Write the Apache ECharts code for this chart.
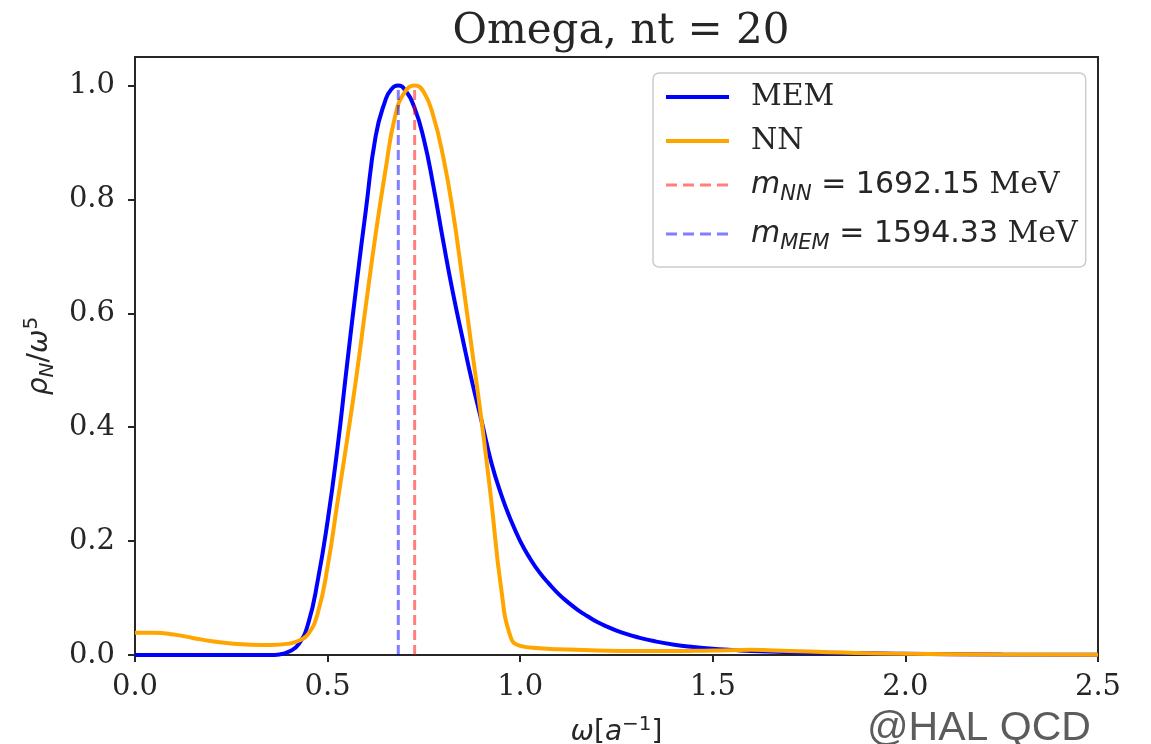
<!DOCTYPE html>
<html>
<head>
<meta charset="utf-8">
<script src="https://cdn.jsdelivr.net/npm/echarts@6/dist/echarts.min.js"></script>
<style>
html, body { margin: 0; padding: 0; background: #fff; }
#chart { width: 1151px; height: 744px; }
</style>
</head>
<body>
<div id="chart"></div>
<script>
// spectral functions (omega in lattice units)
const memOmega = [0, 0.2, 0.35, 0.375, 0.4, 0.425, 0.45, 0.475, 0.5, 0.525, 0.55, 0.575, 0.6, 0.625, 0.65, 0.665, 0.6835,
    0.7, 0.725, 0.75, 0.775, 0.8, 0.825, 0.85, 0.875, 0.9, 0.925, 0.95, 0.975, 1.0, 1.025, 1.05, 1.075, 1.1, 1.125, 1.15,
    1.175, 1.2, 1.225, 1.25, 1.275, 1.3, 1.35, 1.4, 1.45, 1.5, 1.55, 1.6, 1.7, 1.8, 1.9, 2.0, 2.25, 2.5];
const memRho = [0, 0, 0, 0.001, 0.006, 0.019, 0.056, 0.133, 0.235, 0.36, 0.507, 0.65, 0.785, 0.912, 0.974, 0.993, 1.0,
    0.993, 0.962, 0.905, 0.822, 0.727, 0.637, 0.557, 0.48, 0.41, 0.338, 0.283, 0.238, 0.2, 0.17, 0.145, 0.125, 0.107, 0.092, 0.079,
    0.068, 0.058, 0.05, 0.043, 0.037, 0.032, 0.024, 0.018, 0.014, 0.011, 0.009, 0.007, 0.005, 0.004, 0.003, 0.002, 0.001, 0.0005];

const nnOmega = [0, 0.05, 0.1, 0.15, 0.2, 0.25, 0.3, 0.35, 0.4, 0.425, 0.45, 0.475, 0.5, 0.525, 0.55, 0.575, 0.6, 0.625,
    0.65, 0.675, 0.7, 0.726, 0.75, 0.775, 0.8, 0.825, 0.85, 0.875, 0.9, 0.925, 0.95, 0.975, 1.0, 1.05, 1.1, 1.2,
    1.3, 1.4, 1.5, 1.6, 1.7, 1.8, 2.0, 2.25, 2.5];
const nnRho = [0.039, 0.039, 0.036, 0.030, 0.024, 0.020, 0.018, 0.0176, 0.020, 0.025, 0.037, 0.075, 0.155, 0.265, 0.375, 0.49, 0.617, 0.74,
    0.85, 0.945, 0.988, 1.0, 0.988, 0.945, 0.875, 0.78, 0.66, 0.535, 0.41, 0.27, 0.12, 0.032, 0.016, 0.012, 0.010, 0.008,
    0.007, 0.007, 0.008, 0.009, 0.007, 0.005, 0.002, 0.001, 0.0005];

// peak positions, 1692.15 MeV and 1594.33 MeV
const massNN = 0.726;
const massMEM = 0.6835;

const xTicks = [0, 0.5, 1.0, 1.5, 2.0, 2.5];
const yTicks = [0, 0.2, 0.4, 0.6, 0.8, 1.0];

const dark = '#262626';
const serif = 'DejaVu Serif';
const mathFont = 'DejaVu Sans';

function zip(xs, ys) {
    return xs.map(function (x, i) { return [x, ys[i]]; });
}

const legendText = {
    MEM: '{gap|}{t|MEM}',
    NN: '{gap|}{t|NN}',
    mNN: '{gap|}{mi|m}{sub|NN}{num| = 1692.15}{t| MeV}',
    mMEM: '{gap|}{mi|m}{sub|MEM}{num| = 1594.33}{t| MeV}'
};

const mathRich = {
    i: { fontFamily: mathFont, fontStyle: 'italic', fontSize: 28, lineHeight: 36, color: dark },
    n: { fontFamily: mathFont, fontSize: 28, lineHeight: 36, color: dark },
    sub: { fontFamily: mathFont, fontStyle: 'italic', fontSize: 20, lineHeight: 20, verticalAlign: 'bottom', color: dark },
    sup: { fontFamily: mathFont, fontSize: 20, lineHeight: 20, verticalAlign: 'top', color: dark }
};

const chart = echarts.init(document.getElementById('chart'));

const option = {
    animation: false,
    backgroundColor: '#fff',
    title: {
        text: 'Omega, nt = 20',
        left: 616,
        textAlign: 'center',
        top: 6,
        textStyle: { fontFamily: serif, fontSize: 42, fontWeight: 'normal', color: dark }
    },
    grid: {
        left: 135, right: 53, top: 57, bottom: 89,
        outerBoundsMode: 'none',
        containLabel: false,
        show: true,
        borderColor: dark,
        borderWidth: 2
    },
    legend: {
        orient: 'vertical',
        left: 653,
        top: 73,
        padding: [9, 8, 13, 11],
        itemWidth: 63,
        itemHeight: 14,
        itemGap: 14,
        backgroundColor: 'rgba(255,255,255,0.8)',
        borderColor: '#cccccc',
        borderWidth: 1.5,
        borderRadius: 6,
        itemStyle: { opacity: 0 },
        data: [
            { name: 'MEM', lineStyle: { color: '#0000ff', width: 4, type: 'solid' } },
            { name: 'NN', lineStyle: { color: '#ffa500', width: 4, type: 'solid' } },
            { name: 'mNN', lineStyle: { color: 'rgba(255,0,0,0.5)', width: 3, type: [11, 6] } },
            { name: 'mMEM', lineStyle: { color: 'rgba(0,0,255,0.5)', width: 3, type: [11, 6] } }
        ],
        formatter: function (name) { return legendText[name]; },
        textStyle: {
            color: dark,
            rich: {
                gap: { width: 17, lineHeight: 40 },
                t: { fontFamily: serif, fontSize: 30, lineHeight: 40, color: dark },
                mi: { fontFamily: mathFont, fontStyle: 'italic', fontSize: 30, lineHeight: 40, color: dark },
                sub: { fontFamily: mathFont, fontStyle: 'italic', fontSize: 21, lineHeight: 22, verticalAlign: 'bottom', color: dark },
                num: { fontFamily: mathFont, fontSize: 30, lineHeight: 40, color: dark }
            }
        }
    },
    xAxis: {
        type: 'value',
        min: 0,
        max: 2.5,
        interval: 0.5,
        name: '{i|ω}{n|[}{i|a}{sup|−1}{n|]}',
        nameLocation: 'middle',
        nameGap: 60,
        nameTextStyle: { rich: mathRich },
        axisLine: { show: true, lineStyle: { color: dark, width: 2 } },
        axisTick: { show: true, inside: false, length: 7, lineStyle: { color: dark, width: 2 } },
        axisLabel: {
            margin: 18,
            fontFamily: serif, fontSize: 29, color: dark,
            formatter: function (v) { return v.toFixed(1); }
        },
        splitLine: { show: false }
    },
    yAxis: {
        type: 'value',
        min: 0,
        max: 1.05,
        name: '{i|ρ}{sub|N}{n|/}{i|ω}{sup|5}',
        nameLocation: 'middle',
        nameRotate: 90,
        nameGap: 72,
        nameTextStyle: { rich: mathRich },
        axisLine: { show: true, lineStyle: { color: dark, width: 2 } },
        axisTick: { show: true, inside: false, length: 7, customValues: yTicks, lineStyle: { color: dark, width: 2 } },
        axisLabel: {
            margin: 20,
            customValues: yTicks,
            fontFamily: serif, fontSize: 29, color: dark,
            formatter: function (v) { return v.toFixed(1); }
        },
        splitLine: { show: false }
    },
    series: [
        {
            name: 'MEM',
            type: 'line',
            data: zip(memOmega, memRho),
            smooth: 0.5,
            symbol: 'none',
            lineStyle: { color: '#0000ff', width: 4 },
            itemStyle: { color: '#0000ff' }
        },
        {
            name: 'NN',
            type: 'line',
            data: zip(nnOmega, nnRho),
            smooth: 0.5,
            symbol: 'none',
            lineStyle: { color: '#ffa500', width: 4 },
            itemStyle: { color: '#ffa500' }
        },
        {
            name: 'mNN',
            type: 'line',
            data: [[massNN, 0], [massNN, 1]],
            symbol: 'none',
            lineStyle: { color: 'rgba(255,0,0,0.5)', width: 3, type: [10, 5] },
            itemStyle: { color: 'rgba(255,0,0,0.5)' }
        },
        {
            name: 'mMEM',
            type: 'line',
            data: [[massMEM, 0], [massMEM, 1]],
            symbol: 'none',
            lineStyle: { color: 'rgba(0,0,255,0.5)', width: 3, type: [10, 5] },
            itemStyle: { color: 'rgba(0,0,255,0.5)' }
        }
    ],
    graphic: [{
        type: 'text',
        left: 867,
        top: 708,
        style: {
            text: '@HAL QCD',
            font: '41px "Liberation Sans"',
            fill: '#5c5c5c'
        }
    }]
};

chart.setOption(option);
</script>
</body>
</html>
